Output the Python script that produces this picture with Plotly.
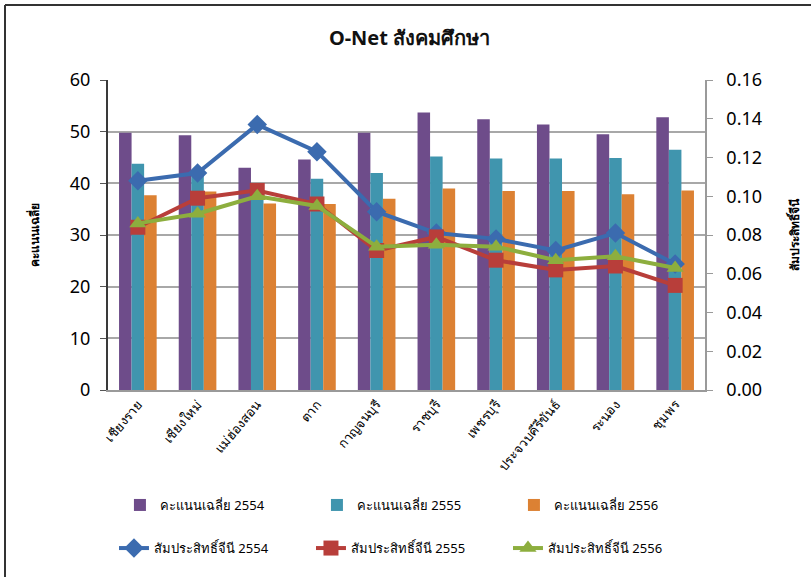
import plotly.graph_objects as go

categories = ["เชียงราย", "เชียงใหม่", "แม่ฮ่องสอน", "ตาก", "กาญจนบุรี",
              "ราชบุรี", "เพชรบุรี", "ประจวบคีรีขันธ์", "ระนอง", "ชุมพร"]

score_2554 = [49.8, 49.3, 43.0, 44.6, 49.8, 53.7, 52.4, 51.4, 49.5, 52.8]
score_2555 = [43.8, 41.5, 38.0, 40.9, 42.0, 45.2, 44.8, 44.8, 44.9, 46.5]
score_2556 = [37.7, 38.4, 36.1, 36.0, 37.0, 39.0, 38.5, 38.5, 37.9, 38.6]

gini_2554 = [0.108, 0.112, 0.137, 0.123, 0.092, 0.081, 0.078, 0.072, 0.081, 0.065]
gini_2555 = [0.084, 0.099, 0.103, 0.096, 0.072, 0.079, 0.067, 0.062, 0.064, 0.054]
gini_2556 = [0.086, 0.091, 0.100, 0.095, 0.074, 0.075, 0.074, 0.067, 0.069, 0.063]

bar_names = ["คะแนนเฉลี่ย 2554", "คะแนนเฉลี่ย 2555", "คะแนนเฉลี่ย 2556"]
line_names = ["สัมประสิทธิ์จีนี 2554", "สัมประสิทธิ์จีนี 2555", "สัมประสิทธิ์จีนี 2556"]

left_ticks = [0, 10, 20, 30, 40, 50, 60]
right_ticks = [0.00, 0.02, 0.04, 0.06, 0.08, 0.10, 0.12, 0.14, 0.16]

bar_colors = ["#6E4C8A", "#4095AE", "#DC8133"]
line_colors = ["#3B6BAF", "#B83E3A", "#8DAE3E"]
symbols = ["diamond", "square", "triangle-up"]

FONT = "Noto Sans, DejaVu Sans, sans-serif"

fig = go.Figure()
for name, vals, col in zip(bar_names, [score_2554, score_2555, score_2556], bar_colors):
    fig.add_trace(go.Bar(x=categories, y=vals, name=name, marker_color=col,
                         marker_line_width=0, legend="legend"))
for name, vals, col, sym in zip(line_names, [gini_2554, gini_2555, gini_2556], line_colors, symbols):
    fig.add_trace(go.Scatter(x=categories, y=vals, name=name, yaxis="y2",
                             mode="lines+markers",
                             line=dict(color=col, width=4),
                             marker=dict(symbol=sym, size=15, color=col),
                             legend="legend2"))

fig.update_layout(
    width=811, height=577,
    margin=dict(l=108, r=106, t=80, b=187, autoexpand=False),
    paper_bgcolor="white", plot_bgcolor="white",
    font=dict(family=FONT, color="#000000"),
    title=dict(text="<b>O-Net สังคมศึกษา</b>", x=0.505, xanchor="center",
               y=0.935, yanchor="middle", font=dict(size=20, color="#111111")),
    barmode="group", bargap=0.37, bargroupgap=0,
    xaxis=dict(range=[-0.5, len(categories) - 0.5],
               tickangle=-50, tickfont=dict(size=13), showline=True,
               linecolor="#9A9A9A", linewidth=1.5, ticks="", showgrid=False,
               automargin=False),
    yaxis=dict(range=[0, 60], tickvals=left_ticks, tickfont=dict(size=18),
               showline=True, linecolor="#3A3A3A", linewidth=2,
               ticks="outside", ticklen=6, tickcolor="#555555",
               ticklabelstandoff=6, automargin=False,
               showgrid=True, gridcolor="#A8A8A8", gridwidth=1.5,
               zeroline=False,
               title=dict(text="<b>คะแนนเฉลี่ย</b>", font=dict(size=12), standoff=28)),
    yaxis2=dict(range=[0, 0.16], tickvals=right_ticks, tickformat=".2f",
                tickfont=dict(size=18), overlaying="y", side="right",
                showline=True, linecolor="#9A9A9A", linewidth=1.5,
                ticks="outside", ticklen=6, tickcolor="#9A9A9A",
                ticklabelstandoff=10, automargin=False,
                showgrid=False, zeroline=False,
                title=dict(text="<b>สัมประสิทธิ์จีนี</b>", font=dict(size=12), standoff=30)),
    legend=dict(orientation="h", x=0.02, xanchor="left", y=-0.371, yanchor="middle",
                entrywidth=152, entrywidthmode="pixels", font=dict(size=13),
                traceorder="normal"),
    legend2=dict(orientation="h", x=0.01, xanchor="left", y=-0.51, yanchor="middle",
                 entrywidth=152, entrywidthmode="pixels", font=dict(size=13),
                 traceorder="normal"),
    shapes=[
        dict(type="line", xref="paper", yref="paper",
             x0=-103/597, x1=706/597, y0=(390 - 5) / 310, y1=(390 - 5) / 310,
             line=dict(color="#333333", width=2)),
        dict(type="line", xref="paper", yref="paper",
             x0=-103/597, x1=-103/597, y0=(390 - 5) / 310, y1=-190/310,
             line=dict(color="#333333", width=2)),
    ],
)

fig.write_html("out.html", config={"displayModeBar": False},
               post_script="document.body.style.margin='0px';document.body.style.padding='0px';")
